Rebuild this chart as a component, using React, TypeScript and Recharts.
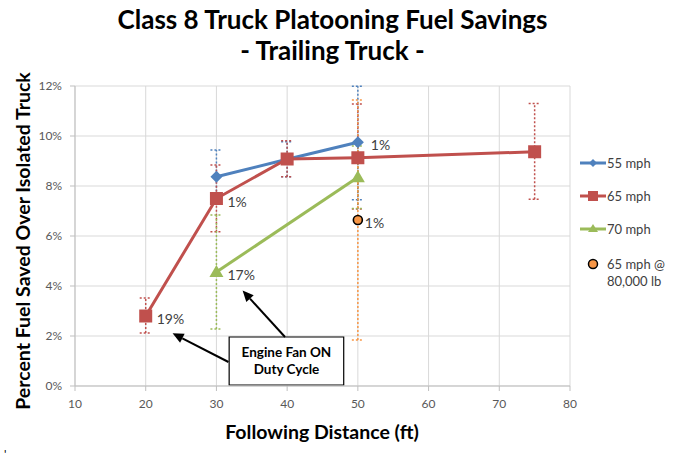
import React from "react";
import {
  ComposedChart,
  Line,
  XAxis,
  YAxis,
  CartesianGrid,
  ErrorBar,
  ReferenceArea,
  ReferenceLine,
  Legend,
} from "recharts";

const FONT = "Lato, 'Open Sans', sans-serif";

const xTicks = [10, 20, 30, 40, 50, 60, 70, 80];
const yTicks = [0, 0.02, 0.04, 0.06, 0.08, 0.1, 0.12];

const seriesNames = ["55 mph", "65 mph", "70 mph", "65 mph @ 80,000 lb"];
const seriesColors = ["#4F81BD", "#C0504D", "#9BBB59", "#F79646"];

const dist55 = [30, 40, 50];
const save55 = [0.0837, 0.0907, 0.0975];
const errLo55 = [0.0107, 0.007, 0.023];
const errHi55 = [0.0107, 0.007, 0.0224];
const labels55 = ["", "", "1%"];

const dist65 = [20, 30, 40, 50, 75];
const save65 = [0.028, 0.075, 0.0908, 0.0913, 0.0937];
const errLo65 = [0.0068, 0.0133, 0.0071, 0.0205, 0.019];
const errHi65 = [0.0072, 0.0134, 0.0073, 0.0215, 0.0193];
const labels65 = ["19%", "1%", "", "", ""];

const dist70 = [30, 50];
const save70 = [0.0456, 0.0835];
const errLo70 = [0.0228, 0.0125];
const errHi70 = [0.0228, 0.0125];
const labels70 = ["17%", ""];

const distHeavy = [50];
const saveHeavy = [0.0664];
const errLoHeavy = [0.048];
const errHiHeavy = [0.048];
const labelsHeavy = ["1%"];

const noteLines = ["Engine Fan ON", "Duty Cycle"];
const noteBox = { x1: 31.8, x2: 48, y1: 0.0004, y2: 0.0196 };
const arrow1 = [
  { x: 31.7, y: 0.0096 },
  { x: 23.8, y: 0.0211 },
];
const arrow2 = [
  { x: 39.7, y: 0.0196 },
  { x: 33.7, y: 0.0382 },
];

const build = (xs: number[], ys: number[], lo: number[], hi: number[], lb: string[]) =>
  xs.map((x, i) => ({ x, y: ys[i], err: [lo[i], hi[i]], label: lb[i] }));

const data55 = build(dist55, save55, errLo55, errHi55, labels55);
const data65 = build(dist65, save65, errLo65, errHi65, labels65);
const data70 = build(dist70, save70, errLo70, errHi70, labels70);
const dataHeavy = build(distHeavy, saveHeavy, errLoHeavy, errHiHeavy, labelsHeavy);

const diamond = (p: any) => {
  const { cx, cy, index } = p;
  const r = 6;
  return (
    <path
      key={"d" + index}
      d={`M${cx},${cy - r}L${cx + r},${cy}L${cx},${cy + r}L${cx - r},${cy}Z`}
      fill={seriesColors[0]}
    />
  );
};
const square = (p: any) => {
  const { cx, cy, index } = p;
  const s = 6.5;
  return <rect key={"s" + index} x={cx - s} y={cy - s} width={2 * s} height={2 * s} fill={seriesColors[1]} />;
};
const triangle = (p: any) => {
  const { cx, cy, index } = p;
  return (
    <path
      key={"t" + index}
      d={`M${cx},${cy - 7}L${cx + 7},${cy + 5}L${cx - 7},${cy + 5}Z`}
      fill={seriesColors[2]}
    />
  );
};
const circle = (p: any) => {
  const { cx, cy, index } = p;
  return <circle key={"c" + index} cx={cx} cy={cy} r={4.5} fill={seriesColors[3]} stroke="#000" strokeWidth={1.6} />;
};

const makeLabel = (labels: string[], dx: number) => (p: any) => {
  const { x, y, index } = p;
  const t = labels[index];
  if (!t) return <g key={"l" + index} />;
  return (
    <text key={"l" + index} x={x + dx} y={y + 8} fontSize={14} fill="#404040" fontFamily={FONT}>
      {t}
    </text>
  );
};

const arrowShape = (p: any) => {
  const { x1, y1, x2, y2 } = p;
  const dx = x2 - x1;
  const dy = y2 - y1;
  const len = Math.sqrt(dx * dx + dy * dy) || 1;
  const ux = dx / len;
  const uy = dy / len;
  const hl = 11;
  const hw = 5;
  const bx = x2 - ux * hl;
  const by = y2 - uy * hl;
  return (
    <g>
      <line x1={x1} y1={y1} x2={bx} y2={by} stroke="#000" strokeWidth={2} />
      <path
        d={`M${x2},${y2}L${bx - uy * hw},${by + ux * hw}L${bx + uy * hw},${by - ux * hw}Z`}
        fill="#000"
      />
    </g>
  );
};

const noteLabel = (p: any) => {
  const vb = p.viewBox || {};
  const cx = vb.x + vb.width / 2;
  return (
    <g>
      {noteLines.map((t, i) => (
        <text
          key={i}
          x={cx}
          y={vb.y + 20 + i * 17}
          textAnchor="middle"
          fontSize={13.5}
          fontWeight="bold"
          fill="#000"
          fontFamily={FONT}
        >
          {t}
        </text>
      ))}
    </g>
  );
};

const LegendContent = () => {
  const rows = [13, 46, 79];
  return (
    <svg width={95} height={140} style={{ overflow: "visible" }}>
      {rows.map((ry, i) => (
        <g key={i}>
          <line x1={2} y1={ry} x2={28} y2={ry} stroke={seriesColors[i]} strokeWidth={3} />
          {i === 0 && <path d={`M15,${ry - 4}L19,${ry}L15,${ry + 4}L11,${ry}Z`} fill={seriesColors[0]} />}
          {i === 1 && <rect x={10} y={ry - 5} width={10} height={10} fill={seriesColors[1]} />}
          {i === 2 && <path d={`M15,${ry - 5}L20,${ry + 3}L10,${ry + 3}Z`} fill={seriesColors[2]} />}
          <text x={29} y={ry + 5} fontSize={13} fill="#404040" fontFamily={FONT}>
            {seriesNames[i]}
          </text>
        </g>
      ))}
      <circle cx={15} cy={114} r={4.5} fill={seriesColors[3]} stroke="#000" strokeWidth={1.5} />
      <text x={29} y={119} fontSize={13} fill="#404040" fontFamily={FONT}>
        65 mph @
      </text>
      <text x={29} y={136} fontSize={13} fill="#404040" fontFamily={FONT}>
        80,000 lb
      </text>
    </svg>
  );
};

const pct = (v: number) => `${Math.round(v * 100)}%`;

export default function App() {
  return (
    <div style={{ position: "absolute", left: 0, top: 0, width: 673, height: 462, background: "#fff", fontFamily: FONT }}>
      <div
        style={{
          position: "absolute",
          left: 0,
          width: 665,
          top: 4,
          textAlign: "center",
          fontSize: 26,
          fontWeight: "bold",
          color: "#000",
          lineHeight: "31px",
        }}
      >
        <div>Class 8 Truck Platooning Fuel Savings</div>
        <div>- Trailing Truck -</div>
      </div>
      <div
        style={{
          position: "absolute",
          left: 22,
          top: 241,
          transform: "translate(-50%, -50%) rotate(-90deg)",
          whiteSpace: "nowrap",
          fontSize: 19.5,
          fontWeight: "bold",
          color: "#000",
        }}
      >
        Percent Fuel Saved Over Isolated Truck
      </div>
      <div
        style={{
          position: "absolute",
          left: 322,
          top: 431,
          transform: "translate(-50%, -50%)",
          whiteSpace: "nowrap",
          fontSize: 19.5,
          fontWeight: "bold",
          color: "#000",
        }}
      >
        Following Distance (ft)
      </div>
      <div style={{ position: "absolute", left: 4, top: 446, fontSize: 12, color: "#000" }}>'</div>
      <ComposedChart
        width={673}
        height={462}
        margin={{ top: 86, right: 103, left: 0, bottom: 0 }}
        style={{ position: "absolute", left: 0, top: 0 }}
      >
        <CartesianGrid stroke="#d9d9d9" strokeWidth={1} />
        <XAxis
          dataKey="x"
          type="number"
          domain={[10, 80]}
          ticks={xTicks}
          allowDataOverflow
          height={76}
          stroke="#bfbfbf"
          tickSize={5}
          tickMargin={8}
          tick={{ fill: "#595959", fontSize: 12, fontFamily: FONT }}
        />
        <YAxis
          type="number"
          domain={[0, 0.12]}
          ticks={yTicks}
          allowDataOverflow
          width={75}
          stroke="#bfbfbf"
          tickSize={5}
          tickMargin={8}
          tickFormatter={pct}
          tick={{ fill: "#595959", fontSize: 12, fontFamily: FONT }}
        />
        <Line
          data={data55}
          dataKey="y"
          type="linear"
          stroke={seriesColors[0]}
          strokeWidth={3}
          dot={diamond}
          activeDot={false}
          label={makeLabel(labels55, 13)}
          isAnimationActive={false}
        >
          <ErrorBar dataKey="err" direction="y" width={6} stroke={seriesColors[0]} strokeWidth={1.5} strokeDasharray="2 2" />
        </Line>
        <Line
          data={data65}
          dataKey="y"
          type="linear"
          stroke={seriesColors[1]}
          strokeWidth={3}
          dot={square}
          activeDot={false}
          label={makeLabel(labels65, 11)}
          isAnimationActive={false}
        >
          <ErrorBar dataKey="err" direction="y" width={6} stroke={seriesColors[1]} strokeWidth={1.5} strokeDasharray="2 2" />
        </Line>
        <Line
          data={data70}
          dataKey="y"
          type="linear"
          stroke={seriesColors[2]}
          strokeWidth={3}
          dot={triangle}
          activeDot={false}
          label={makeLabel(labels70, 11)}
          isAnimationActive={false}
        >
          <ErrorBar dataKey="err" direction="y" width={6} stroke={seriesColors[2]} strokeWidth={1.5} strokeDasharray="2 2" />
        </Line>
        <Line
          data={dataHeavy}
          dataKey="y"
          type="linear"
          stroke="none"
          strokeWidth={0}
          dot={circle}
          activeDot={false}
          label={makeLabel(labelsHeavy, 7)}
          isAnimationActive={false}
        >
          <ErrorBar dataKey="err" direction="y" width={6} stroke={seriesColors[3]} strokeWidth={1.5} strokeDasharray="2 2" />
        </Line>
        <ReferenceArea
          x1={noteBox.x1}
          x2={noteBox.x2}
          y1={noteBox.y1}
          y2={noteBox.y2}
          fill="#fff"
          fillOpacity={1}
          stroke="#000"
          strokeWidth={1.2}
          label={noteLabel}
        />
        <ReferenceLine segment={arrow1} shape={arrowShape} />
        <ReferenceLine segment={arrow2} shape={arrowShape} />
        <Legend
          layout="vertical"
          align="center"
          verticalAlign="middle"
          content={LegendContent}
          wrapperStyle={{ position: "absolute", left: 578, top: 150, width: 95, height: 140 }}
        />
      </ComposedChart>
    </div>
  );
}
